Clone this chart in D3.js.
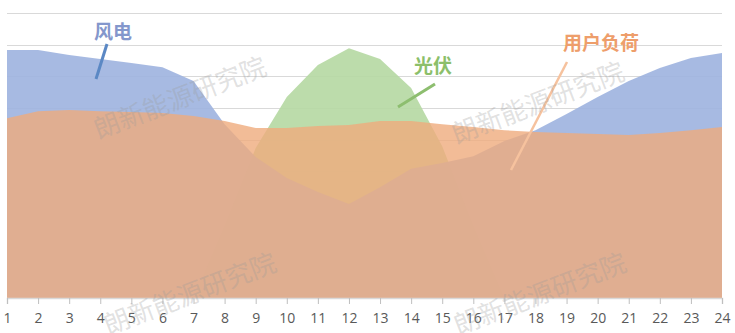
<!doctype html>
<html>
<head>
<meta charset="utf-8"/>
<script src="https://d3js.org/d3.v7.min.js"></script>
<style>
  body { margin: 0; background: #fff; }
  svg { display: block; }
</style>
</head>
<body>
<svg id="chart"></svg>
<script>
var hours = [1,2,3,4,5,6,7,8,9,10,11,12,13,14,15,16,17,18,19,20,21,22,23,24];
// 风电
var wind = [78.3,78.3,76.7,75.5,74.2,72.9,68.5,54.9,44.5,37.9,33.5,29.7,35.0,40.8,42.6,44.8,49.6,53.0,58.1,63.5,68.5,72.6,75.8,77.4];
// 光伏
var solar = [0,0,0,0,0,0,0,23,47.4,63.5,73.6,78.9,75.5,66.3,47.9,23,0,0,0,0,0,0,0,0];
// 用户负荷
var load = [56.8,59.0,59.4,59.0,58.7,58.4,57.5,55.9,53.7,53.7,54.3,54.6,55.9,55.9,54.9,54.0,53.0,52.4,52.1,51.8,51.5,52.1,53.0,54.0];
var gridValues = [10,20,30,40,50,60,70,80,90];
var watermark = "朗新能源研究院";

var W = 735, H = 333;
var svg = d3.select("#chart").attr("width", W).attr("height", H);

var x = d3.scaleLinear().domain([1, 24]).range([7, 722]);
var y = d3.scaleLinear().domain([0, 90]).range([298, 13]);

// gridlines
svg.append("g").selectAll("line")
  .data(gridValues).enter().append("line")
  .attr("x1", x(1)).attr("x2", x(24))
  .attr("y1", d => Math.round(y(d)) + 0.5).attr("y2", d => Math.round(y(d)) + 0.5)
  .attr("stroke", "#d9d9d9").attr("stroke-width", 1.2);

function areaOf(vals) {
  return d3.area()
    .x((d, i) => x(hours[i]))
    .y0(y(0))
    .y1(d => y(d))(vals);
}

// solar at the back, wind over it, load on top
svg.append("path").attr("d", areaOf(solar)).attr("fill", "#b5d8a2").attr("fill-opacity", 0.9);
svg.append("path").attr("d", areaOf(wind)).attr("fill", "#9db2df").attr("fill-opacity", 0.9);
svg.append("path").attr("d", areaOf(load)).attr("fill", "#efab7d").attr("fill-opacity", 0.8);

// x axis
var xAxis = d3.axisBottom(x).tickValues(hours).tickSize(6).tickPadding(9).tickFormat(d3.format("d"));
var gx = svg.append("g").attr("transform", "translate(0," + y(0) + ")").call(xAxis);
gx.select(".domain").attr("stroke", "#d9d9d9").attr("stroke-width", 1.5);
gx.selectAll(".tick line").attr("stroke", "#bfbfbf");
gx.selectAll(".tick text")
  .attr("fill", "#595959")
  .style("font-family", "'Open Sans', 'Liberation Sans', sans-serif")
  .style("font-size", "14px");

// annotation labels with leader lines
var labels = [
  { text: "风电", x: 113, y: 39, color: "#8497cc", line: [[107, 44], [96, 79]], lc: "#5b88c4", lw: 3 },
  { text: "光伏", x: 433, y: 73, color: "#8cbf6a", line: [[435, 84], [398, 107]], lc: "#8dbe6f", lw: 3 },
  { text: "用户负荷", x: 601, y: 50, color: "#ee9e6b", line: [[567, 62], [511, 170]], lc: "#f6c29e", lw: 2.5 }
];
labels.forEach(function (l) {
  svg.append("line")
    .attr("x1", l.line[0][0]).attr("y1", l.line[0][1])
    .attr("x2", l.line[1][0]).attr("y2", l.line[1][1])
    .attr("stroke", l.lc).attr("stroke-width", l.lw);
  svg.append("text")
    .attr("x", l.x).attr("y", l.y)
    .attr("text-anchor", "middle")
    .attr("fill", l.color)
    .style("font-family", "'Noto Sans CJK SC', sans-serif")
    .style("font-weight", "bold")
    .style("font-size", "19px")
    .text(l.text);
});

// watermarks
var marks = [[180, 98], [538, 103], [190, 294], [540, 294]];
svg.append("g").selectAll("text")
  .data(marks).enter().append("text")
  .attr("transform", d => "translate(" + d[0] + "," + d[1] + ") rotate(-21)")
  .attr("text-anchor", "middle")
  .attr("dy", "0.35em")
  .attr("fill", "#9a9a9a")
  .attr("fill-opacity", 0.3)
  .style("font-family", "'Noto Sans CJK SC', sans-serif")
  .style("font-size", "26px")
  .text(watermark);
</script>
</body>
</html>
